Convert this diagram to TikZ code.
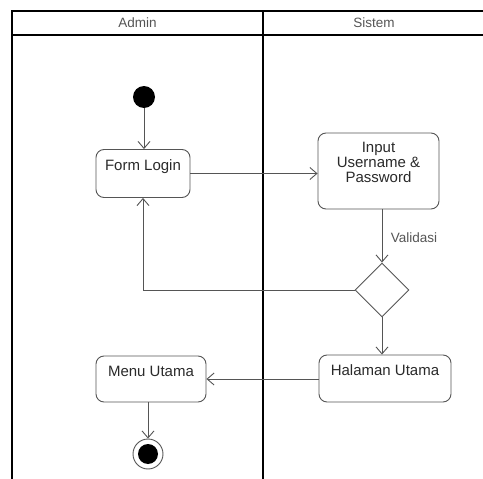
\documentclass[tikz,border=0pt]{standalone}
\usepackage{fontspec}
\setmainfont{Liberation Sans}
\usetikzlibrary{arrows.meta,shapes.geometric}
\definecolor{boxline}{HTML}{555555}
\definecolor{txt}{HTML}{2A2A2A}
\definecolor{hdr}{HTML}{555555}
\tikzset{
  lane/.style={draw=black,line width=1.6pt},
  actbox/.style={draw=boxline,line width=0.9pt,rounded corners=8pt,rectangle,inner sep=0pt},
  acttext/.style={font=\fontsize{15}{16}\selectfont,text=txt,align=center},
  flow/.style={draw=boxline,line width=0.9pt,-{Straight Barb[length=7pt,width=12pt,line width=0.9pt]}},
  flowline/.style={draw=boxline,line width=0.9pt},
  hdrtext/.style={font=\fontsize{13.5}{15}\selectfont,text=hdr}
}
\begin{document}
\begin{tikzpicture}[x=1pt,y=-1pt]
\useasboundingbox (0,0) rectangle (483,479);
\fill[white] (0,0) rectangle (483,479);
% swimlanes
\draw[lane] (12,479) -- (12,11) -- (490,11);
\draw[lane,line width=2pt] (12,35) -- (490,35);
\draw[lane] (263,11) -- (263,479);
\node[hdrtext] (hA) at (137.5,23) {Admin};
\node[hdrtext] (hS) at (374,23) {Sistem};
% nodes
\node[circle,fill=black,inner sep=0pt,minimum size=22pt] (I) at (144,97) {};
\node[actbox,minimum width=94pt,minimum height=48pt,
  label={[acttext,anchor=north,yshift=-7pt]north:Form Login}] (FL) at (143,173.5) {};
\node[actbox,minimum width=121pt,minimum height=76pt,
  label={[acttext,anchor=north,yshift=-6pt,font=\fontsize{15}{15}\selectfont]north:Input\\Username \&\\Password}] (IUP) at (378.5,171) {};
\node[diamond,draw=boxline,line width=0.9pt,inner sep=0pt,minimum width=54pt,minimum height=54pt] (D) at (382,290) {};
\node[actbox,minimum width=132pt,minimum height=47pt,
  label={[acttext,anchor=north,yshift=-7pt]north:Halaman Utama}] (HU) at (385,378.5) {};
\node[actbox,minimum width=110pt,minimum height=46pt,
  label={[acttext,anchor=north,yshift=-7pt]north:Menu Utama}] (MU) at (151,379) {};
\node[circle,draw=boxline,line width=0.9pt,fill=white,inner sep=0pt,minimum size=30pt] (F) at (148,454) {};
\node[circle,fill=black,inner sep=0pt,minimum size=20pt] (Fi) at (F) {};
% flows
\draw[flow] (I) -- (I |- FL.north);
\draw[flow] (FL.east) -- (IUP.west |- FL.east);
\draw[flow] (D.north |- IUP.south) -- node[hdrtext,right,xshift=5pt,yshift=-2pt] (val) {Validasi} (D.north);
\draw[flow] (D.west) -- (FL.south |- D.west) -- (FL.south);
\draw[flow] (D.south) -- (D.south |- HU.north);
\draw[flow] (HU.west |- MU.east) -- (MU.east);
\draw[flow] (F |- MU.south) -- (F.north);
\end{tikzpicture}
\end{document}
